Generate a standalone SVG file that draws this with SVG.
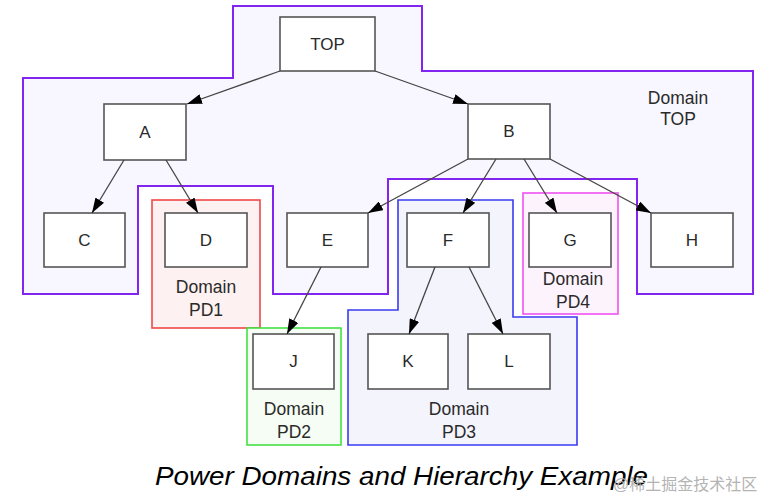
<svg xmlns="http://www.w3.org/2000/svg" width="763" height="500" viewBox="0 0 763 500">
<style>
.node rect{fill:#fff;stroke:#555;stroke-width:1.6}
.node text{font-family:"Liberation Sans",Arial,sans-serif;font-size:17px;fill:#2a2a2a;text-anchor:middle}
.lbl{font-family:"Liberation Sans",Arial,sans-serif;font-size:17.5px;fill:#2a2a2a;text-anchor:middle}
.conn line{stroke:#444;stroke-width:1.3;marker-end:url(#ah)}
</style>
<defs>
<marker id="ah" viewBox="0 0 15 10" refX="15" refY="5" markerWidth="15" markerHeight="10" markerUnits="userSpaceOnUse" orient="auto">
<path d="M0,0 L15,5 L0,10 z" fill="#000"/>
</marker>
</defs>
<rect width="763" height="500" fill="#fff"/>
<g id="domain-top">
<path d="M233,6 H422 V71 H753 V294 H637 V179 H388 V294 H273 V186 H138 V294 H23 V78 H233 Z" fill="#f8f6fe" stroke="#8424f0" stroke-width="2"/>
<text class="lbl" x="678" y="104">Domain</text>
<text class="lbl" x="678" y="125">TOP</text>
</g>
<g id="domain-pd1">
<rect x="152" y="200" width="108" height="128" fill="#fdf1f1" stroke="#f04848" stroke-width="1.6"/>
<text class="lbl" x="206" y="293">Domain</text>
<text class="lbl" x="206" y="316">PD1</text>
</g>
<g id="domain-pd2">
<rect x="247" y="328" width="94" height="117" fill="#f6fdf4" stroke="#44e044" stroke-width="1.6"/>
<text class="lbl" x="294" y="415">Domain</text>
<text class="lbl" x="294" y="438">PD2</text>
</g>
<g id="domain-pd3">
<path d="M398,200 H513 V317 H577 V445 H348 V310 H398 Z" fill="#f3f4fc" stroke="#3a3af0" stroke-width="1.6"/>
<text class="lbl" x="459" y="415">Domain</text>
<text class="lbl" x="459" y="438">PD3</text>
</g>
<g id="domain-pd4">
<rect x="523" y="193" width="95" height="121" fill="#fdf3fd" stroke="#f050f0" stroke-width="1.6"/>
<text class="lbl" x="573" y="285">Domain</text>
<text class="lbl" x="573" y="308">PD4</text>
</g>
<g id="node-TOP" class="node"><rect x="280" y="17" width="95" height="54"/><text x="327.5" y="50">TOP</text></g>
<g id="node-A" class="node"><rect x="104" y="104" width="82" height="56"/><text x="145" y="138">A</text></g>
<g id="node-B" class="node"><rect x="468" y="104" width="82" height="55"/><text x="509" y="137">B</text></g>
<g id="node-C" class="node"><rect x="44" y="213" width="81" height="54"/><text x="84.5" y="246">C</text></g>
<g id="node-D" class="node"><rect x="165" y="213" width="82" height="54"/><text x="206" y="246">D</text></g>
<g id="node-E" class="node"><rect x="287" y="213" width="81" height="54"/><text x="327.5" y="246">E</text></g>
<g id="node-F" class="node"><rect x="407" y="213" width="82" height="54"/><text x="448" y="246">F</text></g>
<g id="node-G" class="node"><rect x="529" y="213" width="82" height="54"/><text x="570" y="246">G</text></g>
<g id="node-H" class="node"><rect x="651" y="213" width="82" height="54"/><text x="692" y="246">H</text></g>
<g id="node-J" class="node"><rect x="253" y="334" width="81" height="55"/><text x="293.5" y="367">J</text></g>
<g id="node-K" class="node"><rect x="368" y="334" width="80" height="55"/><text x="408" y="367">K</text></g>
<g id="node-L" class="node"><rect x="468" y="334" width="82" height="55"/><text x="509" y="367">L</text></g>
<g id="connectors" class="conn">
<line x1="280" y1="71" x2="187" y2="104"/>
<line x1="375" y1="71" x2="468" y2="104"/>
<line x1="124" y1="160" x2="92" y2="213"/>
<line x1="166" y1="160" x2="198" y2="213"/>
<line x1="468" y1="159" x2="368" y2="213"/>
<line x1="496" y1="159" x2="463" y2="213"/>
<line x1="524" y1="159" x2="557" y2="213"/>
<line x1="550" y1="159" x2="651" y2="213"/>
<line x1="321" y1="267" x2="287" y2="334"/>
<line x1="435" y1="267" x2="409" y2="334"/>
<line x1="469" y1="267" x2="503" y2="334"/>
</g>
<text x="155" y="485" font-family="'Liberation Sans',Arial,sans-serif" font-style="italic" font-size="25" fill="#000" textLength="493" lengthAdjust="spacingAndGlyphs">Power Domains and Hierarchy Example</text>
<text x="613" y="490" font-family="'Liberation Sans','Noto Sans CJK SC',sans-serif" font-size="16" fill="#b4b4b4">@稀土掘金技术社区</text>
</svg>
